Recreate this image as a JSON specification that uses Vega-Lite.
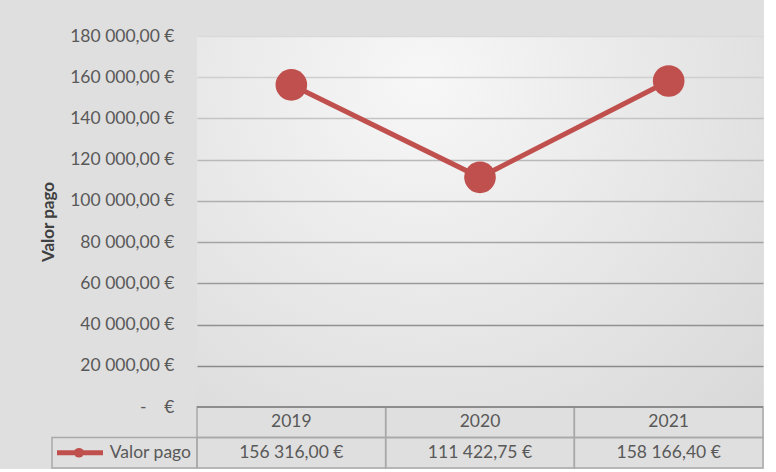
{
  "$schema": "https://vega.github.io/schema/vega-lite/v6.json",
  "background": "#dfdfdf",
  "padding": {"left": 39, "top": 27, "right": 0, "bottom": 0},
  "config": {
    "locale": {
      "number": {"decimal": ",", "thousands": "\u00a0", "grouping": [3], "currency": ["", "\u00a0€"]}
    },
    "font": "Lato",
    "text": {"font": "Lato", "fontSize": 17.5, "color": "#595959"}
  },
  "datasets": {
    "pagamentos": [
      {"serie": "Valor pago", "ano": 2019, "valor": 156316.00},
      {"serie": "Valor pago", "ano": 2020, "valor": 111422.75},
      {"serie": "Valor pago", "ano": 2021, "valor": 158166.40}
    ]
  },
  "data": {"name": "pagamentos"},
  "columns": 1,
  "align": "none",
  "spacing": -10,
  "concat": [
    {
      "width": 566,
      "height": 371,
      "view": {
        "stroke": null,
        "fill": {
          "gradient": "radial",
          "x1": 0.4, "y1": 0.25, "r1": 0,
          "x2": 0.4, "y2": 0.25, "r2": 0.85,
          "stops": [
            {"offset": 0, "color": "#f7f7f7"},
            {"offset": 1, "color": "#d8d8d8"}
          ]
        }
      },
      "encoding": {
        "x": {
          "field": "ano",
          "type": "quantitative",
          "scale": {"domain": [2018.5, 2021.5], "nice": false, "zero": false},
          "axis": null
        },
        "y": {
          "field": "valor",
          "type": "quantitative",
          "scale": {"domain": [0, 180000], "nice": false},
          "axis": {
            "title": "Valor pago",
            "values": [0, 20000, 40000, 60000, 80000, 100000, 120000, 140000, 160000, 180000],
            "format": "$,.2f",
            "labelExpr": "datum.value === 0 ? '-\u00a0\u00a0\u00a0\u00a0€' : datum.label",
            "ticks": false,
            "domain": false,
            "grid": true,
            "gridWidth": 1.5,
            "gridColor": {
              "condition": [
                {"test": "datum.value === 0", "value": "transparent"},
                {"test": "datum.value >= 170000", "value": "#d9d9d9"},
                {"test": "datum.value >= 150000", "value": "#cfcfcf"},
                {"test": "datum.value >= 130000", "value": "#c4c4c4"},
                {"test": "datum.value >= 110000", "value": "#b9b9b9"},
                {"test": "datum.value >= 90000", "value": "#aeaeae"},
                {"test": "datum.value >= 70000", "value": "#a4a4a4"},
                {"test": "datum.value >= 50000", "value": "#9a9a9a"},
                {"test": "datum.value >= 30000", "value": "#919191"}
              ],
              "value": "#8a8a8a"
            },
            "labelPadding": 23,
            "labelFont": "Lato",
            "labelFontSize": 17.5,
            "labelColor": "#595959",
            "titleFont": "Lato",
            "titleFontSize": 17,
            "titleFontWeight": "bold",
            "titleColor": "#404040",
            "titlePadding": 12
          }
        }
      },
      "layer": [
        {"mark": {"type": "line", "color": "#C0504D", "strokeWidth": 5}},
        {"mark": {"type": "point", "filled": true, "size": 1000, "color": "#C0504D", "opacity": 1}}
      ]
    },
    {
      "width": 566,
      "height": 61,
      "view": {"stroke": null},
      "layer": [
        {
          "transform": [
            {"aggregate": [{"op": "min", "field": "ano", "as": "primeiro"}], "groupby": ["serie"]},
            {"calculate": "datum.primeiro - 0.5", "as": "fim"}
          ],
          "layer": [
            {
              "mark": {"type": "rect", "fill": null, "stroke": "#a9a9a9", "strokeWidth": 1.5, "xOffset": -145},
              "encoding": {
                "x": {
                  "field": "fim",
                  "type": "quantitative",
                  "scale": {"domain": [2018.5, 2021.5], "nice": false, "zero": false},
                  "axis": null
                },
                "x2": {"field": "fim"},
                "y": {
                  "datum": "valor",
                  "type": "nominal",
                  "scale": {"type": "band", "domain": ["cab", "valor"], "paddingInner": 0, "paddingOuter": 0},
                  "axis": null
                }
              }
            },
            {
              "mark": {"type": "text", "align": "right", "baseline": "middle", "dx": -6},
              "encoding": {
                "x": {"field": "fim", "type": "quantitative"},
                "y": {"datum": "valor", "type": "nominal"},
                "text": {"field": "serie", "type": "nominal"}
              }
            },
            {
              "mark": {"type": "rule", "color": "#C0504D", "strokeWidth": 5, "xOffset": -140, "x2Offset": -94},
              "encoding": {
                "x": {"field": "fim", "type": "quantitative"},
                "x2": {"field": "fim"},
                "y": {"datum": "valor", "type": "nominal"}
              }
            },
            {
              "mark": {"type": "point", "filled": true, "size": 95, "color": "#C0504D", "opacity": 1, "xOffset": -118},
              "encoding": {
                "x": {"field": "fim", "type": "quantitative"},
                "y": {"datum": "valor", "type": "nominal"}
              }
            }
          ]
        },
        {
          "transform": [
            {"calculate": "datum.ano - 0.5", "as": "esq"},
            {"calculate": "datum.ano + 0.5", "as": "dir"}
          ],
          "layer": [
            {
              "mark": {"type": "rect", "fill": null, "stroke": "#a9a9a9", "strokeWidth": 1.5},
              "encoding": {
                "x": {"field": "esq", "type": "quantitative"},
                "x2": {"field": "dir"},
                "y": {"datum": "cab", "type": "nominal"}
              }
            },
            {
              "mark": {"type": "rect", "fill": null, "stroke": "#a9a9a9", "strokeWidth": 1.5},
              "encoding": {
                "x": {"field": "esq", "type": "quantitative"},
                "x2": {"field": "dir"},
                "y": {"datum": "valor", "type": "nominal"}
              }
            },
            {
              "mark": {"type": "rule", "color": "#7f7f7f", "strokeWidth": 1.5},
              "encoding": {
                "x": {"field": "esq", "type": "quantitative"},
                "x2": {"field": "dir"},
                "y": {"datum": "cab", "type": "nominal", "bandPosition": 0}
              }
            },
            {
              "mark": {"type": "text", "baseline": "middle"},
              "encoding": {
                "x": {"field": "ano", "type": "quantitative"},
                "y": {"datum": "cab", "type": "nominal"},
                "text": {"field": "ano", "type": "nominal"}
              }
            },
            {
              "mark": {"type": "text", "baseline": "middle"},
              "encoding": {
                "x": {"field": "ano", "type": "quantitative"},
                "y": {"datum": "valor", "type": "nominal"},
                "text": {"field": "valor", "type": "quantitative", "format": "$,.2f"}
              }
            }
          ]
        }
      ]
    }
  ]
}
